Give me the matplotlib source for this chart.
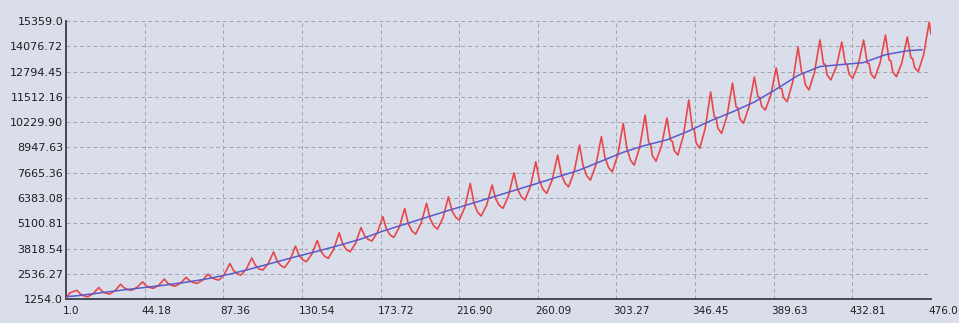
import matplotlib
matplotlib.use("Agg")
import matplotlib.pyplot as plt
import matplotlib.transforms as mtransforms

plt.rcParams['font.family'] = ['DejaVu Sans']
plt.rcParams['font.size'] = 8

# y axis ticks / x axis ticks as printed on the chart
y_ticks = [1254.0, 2536.27, 3818.54, 5100.81, 6383.08, 7665.36, 8947.63,
           10229.90, 11512.16, 12794.45, 14076.72, 15359.0]
y_labels = ['1254.0', '2536.27', '3818.54', '5100.81', '6383.08', '7665.36',
            '8947.63', '10229.90', '11512.16', '12794.45', '14076.72', '15359.0']
x_ticks = [1.0, 44.18, 87.36, 130.54, 173.72, 216.90, 260.09, 303.27,
           346.45, 389.63, 432.81, 476.0]
x_labels = ['1.0', '44.18', '87.36', '130.54', '173.72', '216.90', '260.09',
            '303.27', '346.45', '389.63', '432.81', '476.0']

# red series: start of series, then per seasonal cycle (peak month 7 + 12k)
start_x = [1, 3, 5]
start_y = [1290, 1560, 1640]
peak_vals = [1700, 1840, 2010, 2130, 2270, 2360, 2520, 3060, 3340, 3650,
             3940, 4230, 4620, 4880, 5430, 5850, 6110, 6440, 7120, 7040,
             7660, 8220, 8560, 9070, 9490, 10170, 10590, 10440, 11350, 11760,
             12210, 12520, 12980, 14040, 14400, 14290, 14400, 14650, 14550, 15300]
after2_vals = [1500, 1640, 1820, 1930, 2050, 2170, 2340, 2710, 2970, 3170,
               3470, 3680, 4040, 4470, 4800, 5070, 5320, 5730, 6130, 6330,
               6830, 7260, 7590, 8000, 8420, 8900, 9190, 9310, 9880, 10500,
               10990, 11510, 11950, 12730, 13180, 13190, 13230, 13380, 13490]
# shoulder bump seen in the later cycles (from cycle 26 on)
shoulder_from = 26
after3_vals = [9110, 9250, 9840, 10460, 10950, 11480, 11920, 12680, 13150,
               13130, 13200, 13330, 13450]
after4_vals = [1410, 1550, 1740, 1840, 1950, 2090, 2260, 2540, 2790, 2950,
               3250, 3430, 3770, 4280, 4510, 4710, 4960, 5400, 5670, 6000,
               6450, 6810, 7140, 7500, 7920, 8300, 8530, 8790, 9190, 9910,
               10410, 11040, 11480, 12120, 12610, 12670, 12680, 12780, 13000]
trough_vals = [1370, 1510, 1700, 1800, 1910, 2050, 2220, 2470, 2720, 2850,
               3150, 3320, 3650, 4200, 4380, 4550, 4800, 5260, 5470, 5860,
               6280, 6620, 6950, 7290, 7710, 8050, 8250, 8560, 8900, 9660,
               10170, 10840, 11270, 11860, 12370, 12450, 12450, 12530, 12790]
rise_vals = [1540, 1685, 1850, 1960, 2070, 2210, 2510, 2770, 3050, 3230,
             3530, 3780, 4080, 4630, 4890, 5100, 5370, 5910, 6020, 6490,
             6960, 7300, 7690, 8060, 8570, 8940, 9020, 9540, 9900, 10550,
             10990, 11590, 12240, 12750, 13040, 13130, 13220, 13240, 13670]
end_x = [476]
end_y = [14700]

# blue trend line
trend_x = [1, 7, 19, 31, 43, 55, 67, 79, 91, 103, 115, 127, 139, 151, 163, 175,
           187, 199, 211, 223, 235, 247, 259, 271, 283, 295, 307, 319, 331,
           343, 355, 367, 379, 391, 403, 415, 427, 439, 451, 463, 471]
trend_y = [1380, 1420, 1560, 1700, 1830, 1960, 2110, 2290, 2520, 2800, 3100,
           3400, 3680, 3980, 4300, 4700, 5050, 5400, 5750, 6080, 6420, 6760,
           7100, 7450, 7800, 8250, 8700, 9050, 9330, 9780, 10300, 10750,
           11250, 11900, 12600, 13050, 13150, 13250, 13650, 13850, 13900]

red_x = list(start_x)
red_y = list(start_y)
for k, p in enumerate(peak_vals):
    m = 7 + 12 * k
    red_x.append(m)
    red_y.append(p)
    if k < len(trough_vals):
        red_x.append(m + 2)
        red_y.append(after2_vals[k])
        if k >= shoulder_from:
            red_x.append(m + 3)
            red_y.append(after3_vals[k - shoulder_from])
        red_x += [m + 4, m + 6, m + 9]
        red_y += [after4_vals[k], trough_vals[k], rise_vals[k]]
red_x += end_x
red_y += end_y

bg = '#dadeea'
fig = plt.figure(figsize=(9.59, 3.23), dpi=100, facecolor=bg)
ax = fig.add_axes([0.0688, 0.074, 0.902, 0.861], facecolor=bg)

ax.plot(red_x, red_y, color='#e8474a', lw=1.2, zorder=3)
ax.plot(trend_x, trend_y, color='#5a5ac8', lw=1.1, zorder=4)

ax.set_xlim(1, 476)
ax.set_ylim(1254, 15359)
ax.set_xticks(x_ticks)
ax.set_xticklabels(x_labels, ha='left', fontsize=7.5)
ax.set_yticks(y_ticks)
ax.set_yticklabels(y_labels)
ax.tick_params(length=0, colors='#1e1e1e')
ax.tick_params(axis='x', pad=5)
ax.tick_params(axis='y', pad=2)

# x labels start a little left of their tick
shift = mtransforms.ScaledTranslation(-3 / 100, 0, fig.dpi_scale_trans)
for lab in ax.get_xticklabels():
    lab.set_transform(lab.get_transform() + shift)

ax.grid(True, color='#a2a4b2', lw=0.7, linestyle=(0, (4, 3)))
for s in ['top', 'right']:
    ax.spines[s].set_visible(False)
for s in ['left', 'bottom']:
    ax.spines[s].set_color('#3c3c44')
    ax.spines[s].set_linewidth(1.3)

fig.savefig('out.png', dpi=100, facecolor=bg)
